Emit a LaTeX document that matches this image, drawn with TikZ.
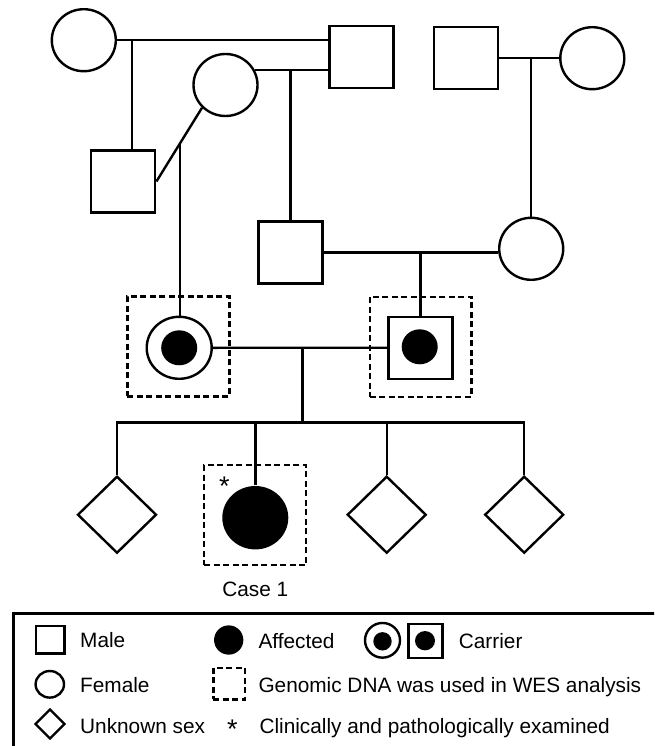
\documentclass[tikz,border=0pt]{standalone}
\usepackage{fontspec}
\setmainfont{Liberation Sans}
\usetikzlibrary{shapes.geometric,calc}
\begin{document}
\begin{tikzpicture}[x=1pt,y=-1pt, line width=2.4pt,
  msq/.style={draw, rectangle, inner sep=0pt, minimum width=64pt, minimum height=62pt},
  fci/.style={draw, ellipse, inner sep=0pt, minimum width=64pt, minimum height=62pt},
  unk/.style={draw, diamond, inner sep=0pt, minimum width=79pt, minimum height=77pt},
  dbox/.style={draw, rectangle, dash pattern=on 6pt off 3.5pt, inner sep=0pt, minimum width=102pt, minimum height=100pt},
  dot/.style={fill=black, ellipse, inner sep=0pt, draw=none},
  lbl/.style={inner sep=0pt, anchor=base west, font=\fontsize{20.8}{25}\selectfont},
  astk/.style={inner sep=0pt, anchor=base, font=\fontsize{27}{30}\selectfont},
  ]
\useasboundingbox (0,0) rectangle (654,746);
\clip (0,0) rectangle (654,746);

% pedigree individuals
\node[fci] (C1) at (83.8,40.2) {};
\node[msq] (S1) at (361.3,56.8) {};
\node[fci] (C2) at (225.5,85) {};
\node[msq] (S2) at (123.2,181.5) {};
\node[msq] (S3) at (290.5,252.5) {};
\node[msq] (S4) at (465.8,58.2) {};
\node[fci] (C3) at (592.3,58.2) {};
\node[fci] (C4) at (531.2,248.8) {};

\node[dbox] (LB) at (178.3,346.3) {};
\node[fci, minimum width=65pt] (LC) at (179.2,347.8) {};
\node[dot, minimum width=36pt, minimum height=35pt] (LCd) at (LC) {};
\node[dbox, minimum width=101.7pt] (RB) at (420.8,346.7) {};
\node[msq] (RS) at (420.5,347.7) {};
\node[dot, minimum width=36pt, minimum height=35pt] (RSd) at (419.7,346.8) {};

\node[unk] (D1) at (117,514.7) {};
\node[dbox] (CB) at (255,515) {};
\node[dot, minimum width=66pt, minimum height=63.4pt] (A1) at (255.3,517.7) {};
\node[unk] (D3) at (386.7,514.7) {};
\node[unk] (D4) at (524.2,514.7) {};
\node[astk] (ast) at (224.3,495.5) {*};
\node[lbl, anchor=base] (case) at (255.3,596) {Case 1};

% connectors
\coordinate (j1) at (131.7,40.2);
\draw (C1.east) -- (C1.east -| S1.west);
\draw (j1) -- (j1 |- S2.north);
\draw (C2.27) -- (C2.27 -| S1.west);
\draw (S3.north |- C2.27) -- (S3.north);
\draw (S2.east) -- coordinate[pos=0.513] (j2) (C2.south west);
\draw (j2) -- (j2 |- LC.north);
\draw (S4.east) -- (C3.west);
\draw (C4.north |- S4.east) -- (C4.north);
\draw (S3.east) -- (S3.east -| C4.west);
\draw (RS.north |- S3.east) -- (RS.north);
\draw (LC.east) -- (RS.west);
\coordinate (mid) at (302.3,347.7);
\coordinate (sib) at (302.3,422.5);
\draw (mid) -- (sib);
\draw (D1.north) -- (D1.north |- sib) -- (D4.north |- sib) -- (D4.north);
\foreach \n in {A1,D3} \draw (\n.north |- sib) -- (\n.north);

% legend
\draw (13.3,613.3) rectangle (700,800);
\node[msq, minimum width=28.3pt, minimum height=27.3pt] (lm) at (50.2,639.7) {};
\node[lbl] (tm) at (79,647.8) {Male};
\node[dot, minimum width=29.3pt, minimum height=29.3pt] (la) at (228.7,640) {};
\node[lbl] (ta) at (257.3,648) {Affected};
\node[fci, minimum width=35pt, minimum height=34.7pt] (lcc) at (382.5,640.3) {};
\node[dot, minimum width=18.4pt, minimum height=18.4pt] (lccd) at (382.5,641.3) {};
\node[msq, minimum width=34pt, minimum height=34pt] (lcs) at (425.3,640.7) {};
\node[dot, minimum width=20pt, minimum height=19.3pt] (lcsd) at (425,640.7) {};
\node[lbl] (tc) at (457.7,648) {Carrier};
\node[fci, minimum width=28.4pt, minimum height=26.6pt] (lf) at (49.8,684.3) {};
\node[lbl] (tf) at (79,692) {Female};
\node[dbox, minimum width=31.7pt, minimum height=31.6pt] (ld) at (229.2,683.5) {};
\node[lbl] (tg) at (257.3,692) {Genomic DNA was used in WES analysis};
\node[unk, minimum width=30pt, minimum height=30pt] (lu) at (50,724) {};
\node[lbl] (tu) at (79,733) {Unknown sex};
\node[astk] (tast) at (232.5,738) {*};
\node[lbl] (tcl) at (258.3,733) {Clinically and pathologically examined};
\end{tikzpicture}
\end{document}
